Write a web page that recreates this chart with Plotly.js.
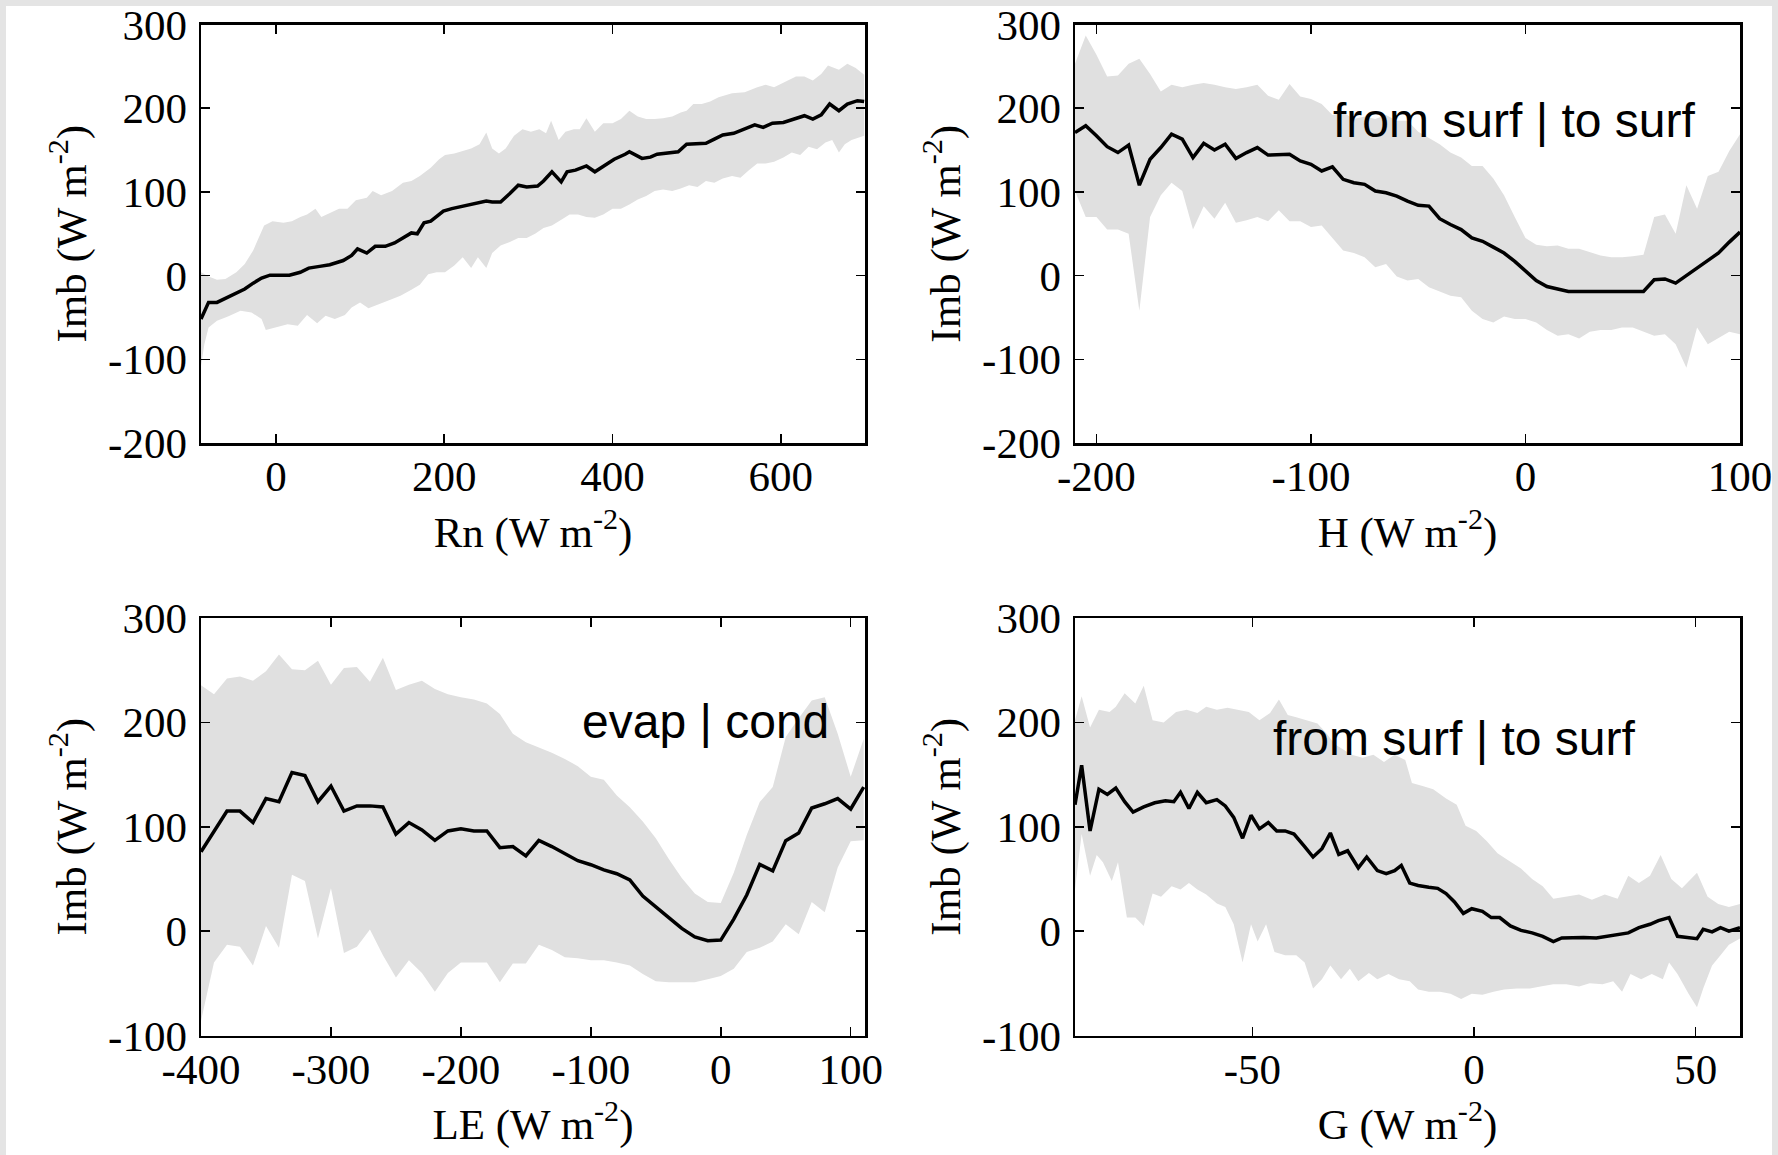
<!DOCTYPE html>
<html><head><meta charset="utf-8">
<script src="https://cdn.plot.ly/plotly-3.0.1.min.js"></script>
<style>html,body{margin:0;padding:0;background:#fff}#chart{width:1778px;height:1155px}</style>
</head><body><div id="chart"></div>
<script>
// ---------- Panel 1: Imb vs Rn ----------
const rnX = [-89,-80,-70,-57,-47,-37,-27,-17,-7,3,16,29,39,52,64,80,90,97,108,118,130,141,151,161,168,176,184,191,199,209,222,237,250,257,267,278,288,298,311,318,328,339,346,356,369,379,389,402,415,420,435,445,453,466,478,488,501,511,521,531,544,557,569,579,590,603,615,628,638,648,658,669,679,691,699];
const rnImb = [-52,-32,-32,-26,-21,-16,-9,-3,0.5,0.5,0.5,4,9,11,13,18,24,32,27,35,35,39,45,51,50,63,65,71,77,80,83,85.5,89,88,88,98,108,106,107,113,124,112,124,126,131,124,131,139,145,148,140,141.5,145,147,148,157,157,158,163,168,170,175,180,177,182,183,187,191,187,192,205,197,205,209,208];
const rnUpX = [-89,-80,-70,-60,-47,-37,-27,-14,-4,9,19,29,37,47,54,64,75,85,95,108,115,125,138,151,161,171,184,194,201,212,222,232,242,250,257,265,273,283,293,303,313,321,327,336,344,354,361,369,379,389,400,410,420,430,440,450,460,471,481,488,496,506,516,526,542,557,572,582,592,607,618,628,638,648,656,669,679,689,699];
const rnUp = [4,-1,-5,-4,4,14,30,60,65,63,65,70,73,80,70,75,80,80,90,93,101,96,101,111,113,119,129,139,144,146,149,152,157,171,152,146,152,167,175,172,175,170,185,162,172,175,175,188,172,182,182,187,197,190,187,187,188,190,195,197,205,205,208,213,218,219,225,228,225,233,238,238,233,241,251,246,253,248,240];
const rnLoX = [-89,-85,-80,-70,-57,-42,-29,-17,-12,-2,14,26,37,49,59,70,82,90,100,110,123,136,148,161,171,181,191,201,212,222,232,240,250,257,267,278,288,298,308,318,328,341,349,359,369,379,389,400,410,420,430,440,450,460,471,481,491,501,511,521,531,542,552,562,572,582,592,603,613,623,633,643,653,661,669,676,684,699];
const rnLo = [-108,-82,-62,-54,-49,-42,-44,-52,-65,-62,-58,-60,-47,-57,-48,-52,-47,-38,-32,-39,-34,-29,-24,-17,-11,1.5,4,4,12,22,9,22,9,27,36,40,45,45,50,57,60,68,73,73,70,69,73,80,80,85,91,95,101,103,101,104,108,106,113,111,116,119,117,126,134,134,136,141,147,144,154,151,159,162,147,157,162,167];

// ---------- Panel 2: Imb vs H ----------
const hX = [-210,-205,-200,-195,-190,-185,-180,-175,-170,-165,-160,-155,-150,-145,-140,-135,-130,-125,-120,-115,-110,-105,-100,-95,-90,-85,-80,-75,-70,-65,-60,-55,-50,-45,-40,-35,-30,-25,-20,-15,-10,-5,0,5,10,15,20,25,30,35,40,45,50,55,60,65,70,75,80,85,90,95,100];
const hImb = [171,179,167,154,147,156,108,139,153,169,163,141,158,150,157,140,147,153,144,144,145,137,133,125,130,115,111,109,101,99,95,89,84,83,68,61,55,45,41,34,27,17,5,-6,-13,-16,-19,-19,-19,-20,-20,-19,-19,-19,-5,-4,-9,0,9,17,27,40,52];
const hUp = [253,287,264,238,239,253,259,241,220,228,225,228,230,228,225,223,225,228,215,210,229,214,211,205,192,195,187,190,187,192,185,185,172,164,157,147,141,131,131,116,96,70,45,37,35,36,32,32,28,24,22,22,23,25,70,73,50,108,80,119,124,149,169];
const hLo = [101,70,70,55,55,50,-42,70,96,111,101,55,83,68,87,63,66,70,65,78,65,65,58,60,45,30,27,22,10,14,-1,-6,-4,-14,-19,-24,-26,-42,-52,-56,-49,-52,-52,-56,-65,-72,-70,-75,-67,-65,-65,-62,-62,-67,-72,-70,-82,-110,-62,-82,-75,-67,-70];

// ---------- Panel 3: Imb vs LE ----------
const leX = [-400,-390,-380,-370,-360,-350,-340,-330,-320,-310,-300,-290,-280,-270,-260,-250,-240,-230,-220,-210,-200,-190,-180,-170,-160,-150,-140,-130,-120,-110,-100,-90,-80,-70,-60,-50,-40,-30,-20,-10,0,10,20,30,40,50,60,70,80,90,100,110];
const leImb = [76,95.5,115,115,104,127,124,152,149,124,139,115,120,120,119,93,104,97,87,96,98,96,96,80,81,72,87,81,74,67.5,63.6,58.6,55,49,33.6,23.7,13,2.6,-5.6,-9.2,-8.6,11.5,34.6,64,57.7,86.7,94,118,122,127,117,138];
const leUp = [235.6,227,242,244,240,249,265,251,250,259,236,252,253,239,262,231,236,240,232,227,224,222,218,208,189,181,176,171,165,158,148,145,130,118.6,105,89,69,51,36,28,27,56,92,123.6,138,186,204,221,224,189,148,184];
const leLo = [-86,-30,-13,-15,-33,5,-16,54,48,-7,41,-21,-15,1.6,-23,-44.5,-28,-40,-58,-40,-30,-30,-30,-49,-31,-31,-13,-18,-25,-26,-28,-28,-30,-33,-41,-48,-49,-49,-49,-46,-43,-36,-20,-16,-10,6.6,-3,28,18,61,86,87];

// ---------- Panel 4: Imb vs G ----------
const gX = [-90,-88.5,-86.6,-84.6,-82.7,-80.8,-78.8,-76.9,-74.5,-72,-69.6,-67.7,-66.2,-64.3,-62.4,-60.4,-58,-56.1,-54.2,-52.2,-50.3,-48.4,-46.4,-44.5,-42.6,-40.6,-38.2,-36.3,-34.3,-32.4,-30.5,-28.5,-26.1,-24.2,-21.8,-19.8,-17.9,-16.4,-14.5,-12.6,-10.2,-8.2,-6.3,-4.4,-2.4,-0.5,1.9,3.9,5.8,8.2,10.6,13.1,15.5,17.9,19.8,22.2,24.7,27.6,30,32.4,34.8,37.2,39.7,41.6,44,45.9,48.4,50.3,51.7,53.7,55.6,57.5,60];
const gImb = [121,159,96,136,131,137,124,114,119,123,125,124,133,117.5,133,123,126,120,109,89,111,98,104,96,96,93,81,71,79,94,73.5,77,60.6,71,58,55,58,63,46,43.7,42,41,36,28,17,21.5,19,13,13,5,0.7,-1.7,-5,-10,-6.6,-6,-6,-6.6,-5,-3.3,-1.7,3.3,6.6,10,13,-5,-6.6,-7.3,1.7,-0.7,3.3,0,3.3];
const gUpX = [-90,-88.5,-86.6,-84.6,-82.2,-80.8,-78.8,-76.4,-74.5,-72.5,-70,-67.2,-64.8,-62.4,-60.4,-58,-55.6,-53.2,-50.8,-48.4,-46,-44,-42,-40.1,-37.7,-35.3,-33.4,-31.4,-29.5,-27.6,-25.1,-22.7,-20.3,-17.9,-15.5,-14,-11.6,-9.2,-6.3,-3.9,-1.9,0.5,2.9,5.3,7.7,10.6,13.1,15.5,17.9,20.8,23.7,26.6,29.5,32.4,34.8,37.2,39.7,42.1,44.5,46.9,50.3,52.7,55.1,57.5,60];
const gUp = [202,225,195,212,210,215,228,218,235,202,200,210,212,209,215,212,214,212,210,202,209,222,207,205,202,199,190,179,174,169,166,169,162,169,164,142,139,136,127,121,101,96,86,74.5,68,60,50,43,31,33,35,30,35,31,53,46,53,73,50,41,56,33,26,23,26];
const gLoX = [-90,-88.5,-86.6,-85.1,-83.7,-81.7,-80.3,-78.3,-76.4,-74.5,-72.5,-70.6,-68.2,-66.2,-64.3,-62.4,-60.4,-58,-56.1,-54.2,-52.2,-50.3,-48.8,-46.9,-45,-42.6,-40.1,-38.2,-36.3,-34.3,-32.4,-30,-28,-26.1,-23.7,-21.8,-19.3,-16.9,-14.5,-12.6,-10.2,-7.7,-5.3,-2.9,-0.5,1.9,4.4,6.8,9.7,12.6,15,17.9,20.8,23.7,26.1,29,31.4,33.4,35.3,37.7,40.1,42.6,44,45.9,48.4,50.3,51.7,53.7,55.6,57.5,60];
const gLo = [40,93,53,73,66,48,66,13,13,5,36,33,43,40,46,40,35,26.5,23,6.6,-30,6.6,-10,6.6,-20,-23,-23,-30,-55,-46,-33,-46,-36,-48,-40,-46,-41,-46,-48,-56,-58,-58,-60,-65,-60,-61,-58,-56,-55,-55,-53,-51,-51,-53,-50,-51,-48,-58,-41,-46,-41,-46,-30,-41,-60,-73,-55,-33,-23,-13,-7];

// ---------- Tick values ----------
const rnTicks = [0,200,400,600];
const hTicks = [-200,-100,0,100];
const leTicks = [-400,-300,-200,-100,0,100];
const gTicks = [-50,0,50];
const imbTicksTop = [-200,-100,0,100,200,300];
const imbTicksBottom = [-100,0,100,200,300];

const SERIF = 'Liberation Serif, Times New Roman, serif';
const SANS = 'Liberation Sans, Arial, sans-serif';

function band(xu, yu, xl, yl, xa, ya) {
  return {x: xu.concat(xl.slice().reverse()), y: yu.concat(yl.slice().reverse()),
    type:'scatter', mode:'lines', fill:'toself', fillcolor:'#e0e0e0', line:{width:0, color:'rgba(0,0,0,0)'},
    hoverinfo:'skip', xaxis:xa, yaxis:ya, showlegend:false};
}
function mean(x, y, xa, ya) {
  return {x:x, y:y, type:'scatter', mode:'lines', line:{color:'#000', width:3.5}, xaxis:xa, yaxis:ya, showlegend:false};
}

const traces = [
  band(rnUpX, rnUp, rnLoX, rnLo, 'x', 'y'), mean(rnX, rnImb, 'x', 'y'),
  band(hX, hUp, hX, hLo, 'x2', 'y2'), mean(hX, hImb, 'x2', 'y2'),
  band(leX, leUp, leX, leLo, 'x3', 'y3'), mean(leX, leImb, 'x3', 'y3'),
  band(gUpX, gUp, gLoX, gLo, 'x4', 'y4'), mean(gX, gImb, 'x4', 'y4')
];

function axis(ticks, range, domain, anchor, title, isX) {
  return {
    range: range, domain: domain, anchor: anchor,
    tickmode:'array', tickvals: ticks, ticktext: ticks.map(String),
    showgrid:false, zeroline:false, showline:true, linecolor:'#000', linewidth:2.5, mirror:'ticks',
    ticks:'inside', ticklen:9, tickwidth:1.5, tickcolor:'#000',
    ticklabelstandoff: isX ? -6 : 3,
    tickfont:{family:SERIF, size:43, color:'#000'},
    title:{text:title, font:{family:SERIF, size:43, color:'#000'}, standoff: isX ? 18 : 8},
    fixedrange:true, automargin:false
  };
}

// plot area: full width, from top down to 1155-MB px
const MB = 118;
const PH = 1155 - MB;
const xL = [201/1778, 865/1778], xR = [1075/1778, 1740/1778];
const yT = [1-443/PH, 1-24.5/PH], yB = [1-1035.5/PH, 1-618/PH];
const imbTitle = 'Imb (W m<sup>-2</sup>)';

const layout = {
  width:1778, height:1155, margin:{l:0, r:0, t:0, b:MB},
  paper_bgcolor:'#e4e4e4', plot_bgcolor:'#ffffff', showlegend:false,
  xaxis:  axis(rnTicks, [-89, 700], xL, 'y',  'Rn (W m<sup>-2</sup>)', true),
  yaxis:  axis(imbTicksTop, [-200, 300], yT, 'x', imbTitle, false),
  xaxis2: axis(hTicks, [-210, 100], xR, 'y2', 'H (W m<sup>-2</sup>)', true),
  yaxis2: axis(imbTicksTop, [-200, 300], yT, 'x2', imbTitle, false),
  xaxis3: axis(leTicks, [-400, 111], xL, 'y3', 'LE (W m<sup>-2</sup>)', true),
  yaxis3: axis(imbTicksBottom, [-100, 300], yB, 'x3', imbTitle, false),
  xaxis4: axis(gTicks, [-90, 60], xR, 'y4', 'G (W m<sup>-2</sup>)', true),
  yaxis4: axis(imbTicksBottom, [-100, 300], yB, 'x4', imbTitle, false),
  shapes:[{type:'rect', xref:'paper', yref:'paper', x0:6/1778, x1:1772/1778, y0:-MB/PH - 0.01, y1:1-6/PH,
           fillcolor:'#ffffff', line:{width:0}, layer:'below'}],
  annotations:[
    {xref:'x2', yref:'y2', x:-5, y:185, text:'from surf | to surf', showarrow:false,
     font:{family:SANS, size:48, color:'#000'}},
    {xref:'x3', yref:'y3', x:-12, y:201, text:'evap | cond', showarrow:false,
     font:{family:SANS, size:48, color:'#000'}},
    {xref:'x4', yref:'y4', x:-4.5, y:185, text:'from surf | to surf', showarrow:false,
     font:{family:SANS, size:48, color:'#000'}}
  ]
};

Plotly.newPlot('chart', traces, layout, {staticPlot:true, displayModeBar:false});
</script>
</body></html>
